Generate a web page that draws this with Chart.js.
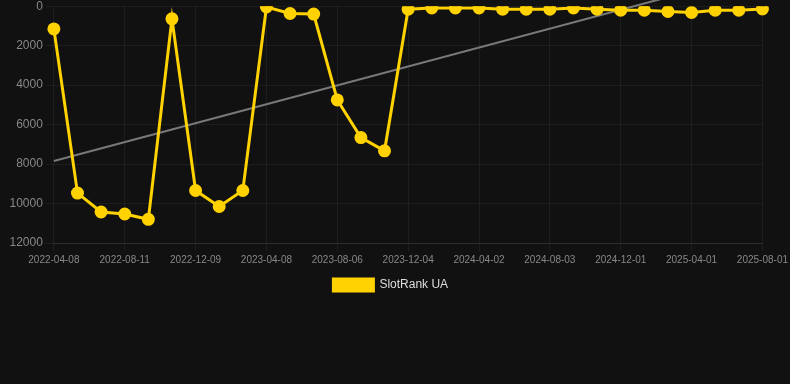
<!DOCTYPE html>
<html>
<head>
<meta charset="utf-8">
<script src="https://cdn.jsdelivr.net/npm/chart.js@4"></script>
<style>
  html, body { margin: 0; padding: 0; background: #111111; overflow: hidden; }
  #wrap { width: 791px; height: 305px; position: relative; margin-top: -4px; }
</style>
</head>
<body>
<div id="wrap"><canvas id="c"></canvas></div>
<script>
const categories = [
  "2022-04-08","2022-05-19","2022-06-30","2022-08-11","2022-09-20","2022-10-30",
  "2022-12-09","2023-01-18","2023-02-27","2023-04-08","2023-05-18","2023-06-27",
  "2023-08-06","2023-09-15","2023-10-25","2023-12-04","2024-01-13","2024-02-22",
  "2024-04-02","2024-05-13","2024-06-23","2024-08-03","2024-09-12","2024-10-22",
  "2024-12-01","2025-01-09","2025-02-20","2025-04-01","2025-05-11","2025-06-21",
  "2025-08-01"
];
const slotRankUA = [
  1150, 9470, 10430, 10530, 10800, 640,
  9340, 10150, 9340, 40, 370, 400,
  4750, 6660, 7330, 150, 90, 90,
  90, 150, 150, 150, 90, 150,
  200, 200, 270, 320, 200, 200,
  140
];
const trendStart = 7840;
const trendEnd = -1735;
const yTicks = [0, 2000, 4000, 6000, 8000, 10000, 12000];

const trendData = categories.map((_, i) => i === 0 ? trendStart : (i === categories.length - 1 ? trendEnd : null));

Chart.defaults.font.family = "'Liberation Sans', Arial, sans-serif";

const legendShift = {
  id: 'legendShift',
  afterLayout(chart) {
    if (chart.legend) {
      chart.legend.left -= 8;
      chart.legend.right -= 8;
      if (chart.legend.legendHitBoxes) chart.legend.legendHitBoxes.forEach(b => { b.left -= 8; });
    }
  }
};

new Chart(document.getElementById('c'), {
  type: 'line',
  data: {
    labels: categories,
    datasets: [
      {
        label: 'SlotRank UA',
        data: slotRankUA,
        borderColor: '#ffd200',
        backgroundColor: '#ffd200',
        borderWidth: 3,
        pointRadius: 5,
        pointHoverRadius: 6,
        pointBackgroundColor: '#ffd200',
        pointBorderColor: '#ffd200',
        tension: 0,
        order: 1
      },
      {
        label: 'trend',
        data: trendData,
        spanGaps: true,
        borderColor: 'rgba(140,140,140,0.85)',
        borderWidth: 2,
        pointRadius: 0,
        pointHoverRadius: 0,
        fill: false,
        clip: false,
        order: 2
      }
    ]
  },
  plugins: [legendShift],
  options: {
    responsive: true,
    maintainAspectRatio: false,
    animation: false,
    layout: { padding: { left: 6.5, right: 0, top: 0, bottom: 0 } },
    plugins: {
      legend: {
        position: 'bottom',
        labels: {
          color: '#dddddd',
          font: { size: 12 },
          boxWidth: 40,
          boxHeight: 12,
          filter: (item) => item.text !== 'trend'
        }
      },
      tooltip: { enabled: false }
    },
    scales: {
      x: {
        grid: { color: 'rgba(255,255,255,0.05)' },
        border: { color: 'rgba(255,255,255,0.08)' },
        ticks: {
          color: '#888888',
          font: { size: 10 },
          maxRotation: 0,
          autoSkip: true,
          maxTicksLimit: 11
        }
      },
      y: {
        reverse: true,
        min: 0,
        max: 12000,
        afterBuildTicks: (axis) => { axis.ticks = yTicks.map(v => ({ value: v })); },
        grid: { color: 'rgba(255,255,255,0.05)' },
        border: { display: false },
        ticks: {
          color: '#888888',
          font: { size: 12 },
          callback: (v) => String(v)
        }
      }
    }
  }
});
</script>
</body>
</html>
